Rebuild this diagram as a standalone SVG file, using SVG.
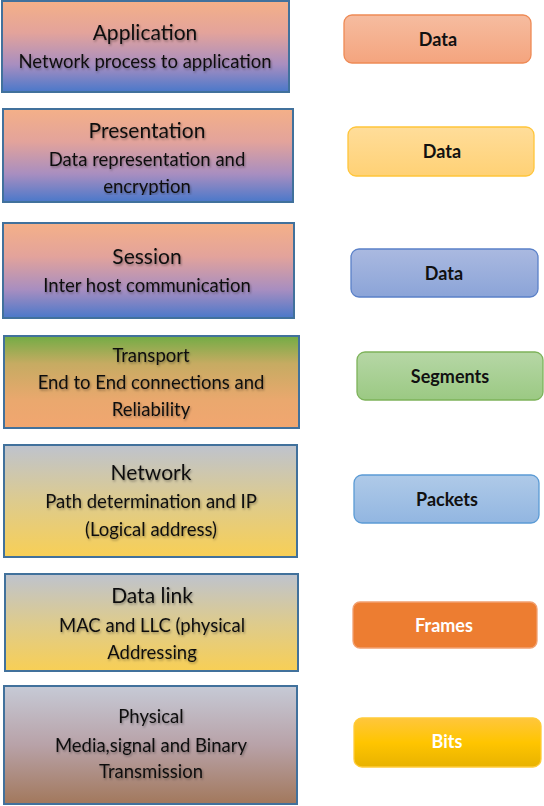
<svg xmlns="http://www.w3.org/2000/svg" width="544" height="806" viewBox="0 0 544 806">
<defs>
<linearGradient id="gBlue" x1="0" y1="0" x2="0" y2="1">
<stop offset="0" stop-color="#F4B088"/>
<stop offset="0.35" stop-color="#E3A39B"/>
<stop offset="0.7" stop-color="#A88EC0"/>
<stop offset="1" stop-color="#4A78CA"/>
</linearGradient>
<linearGradient id="gTrans" x1="0" y1="0" x2="0" y2="1">
<stop offset="0" stop-color="#72AC45"/>
<stop offset="0.3" stop-color="#C6AB62"/>
<stop offset="0.7" stop-color="#EAA86E"/>
<stop offset="1" stop-color="#F1A670"/>
</linearGradient>
<linearGradient id="gYel" x1="0" y1="0" x2="0" y2="1">
<stop offset="0" stop-color="#BEC3CE"/>
<stop offset="0.5" stop-color="#DDCB8E"/>
<stop offset="1" stop-color="#F8CF55"/>
</linearGradient>
<linearGradient id="gPhys" x1="0" y1="0" x2="0" y2="1">
<stop offset="0" stop-color="#C6CAD6"/>
<stop offset="0.5" stop-color="#B8A2A8"/>
<stop offset="1" stop-color="#A2785C"/>
</linearGradient>
<linearGradient id="rData1" x1="0" y1="0" x2="0" y2="1"><stop offset="0" stop-color="#F6BCA0"/><stop offset="1" stop-color="#F4A47E"/></linearGradient>
<linearGradient id="rData2" x1="0" y1="0" x2="0" y2="1"><stop offset="0" stop-color="#FFDD9A"/><stop offset="1" stop-color="#FFD175"/></linearGradient>
<linearGradient id="rData3" x1="0" y1="0" x2="0" y2="1"><stop offset="0" stop-color="#AAB9E0"/><stop offset="1" stop-color="#8BA4D8"/></linearGradient>
<linearGradient id="rSeg" x1="0" y1="0" x2="0" y2="1"><stop offset="0" stop-color="#B6D7A6"/><stop offset="1" stop-color="#9BC983"/></linearGradient>
<linearGradient id="rPack" x1="0" y1="0" x2="0" y2="1"><stop offset="0" stop-color="#AFCAE8"/><stop offset="1" stop-color="#92B6E1"/></linearGradient>
<linearGradient id="rBits" x1="0" y1="0" x2="0" y2="1"><stop offset="0" stop-color="#FFC63D"/><stop offset="0.5" stop-color="#FFC500"/><stop offset="1" stop-color="#E8B200"/></linearGradient>
<filter id="sh" x="-10%" y="-30%" width="120%" height="160%">
<feDropShadow dx="1" dy="1.5" stdDeviation="1.2" flood-color="#000" flood-opacity="0.35"/>
</filter>
<clipPath id="clipPres"><rect x="0" y="100" width="300" height="95"/></clipPath>
</defs>
<style>
.layer{stroke:#41719C;stroke-width:2}
.t{font-family:Lato,"Carlito","Open Sans",sans-serif;fill:#111;text-anchor:middle;filter:url(#sh)}
.h{font-size:21px}
.s{font-size:18.5px}
.pdu{stroke-width:1.3}
.r{font-family:Lato,"Carlito","Open Sans",sans-serif;font-weight:bold;font-size:18px;text-anchor:middle;fill:#111}
.w{fill:#fff}
</style>

<g id="application">
<rect class="layer" x="2" y="1" width="287" height="91" fill="url(#gBlue)"/>
<text class="t h" x="145" y="40">Application</text>
<text class="t s" x="145" y="68">Network process to application</text>
</g>
<g id="presentation">
<rect class="layer" x="3" y="109" width="290" height="93" fill="url(#gBlue)"/>
<text class="t h" x="147" y="138">Presentation</text>
<text class="t s" x="147" y="166">Data representation and</text>
<text class="t s" x="147" y="193" clip-path="url(#clipPres)">encryption</text>
</g>
<g id="session">
<rect class="layer" x="3" y="223" width="291" height="95" fill="url(#gBlue)"/>
<text class="t h" x="147" y="264">Session</text>
<text class="t s" x="147" y="292">Inter host communication</text>
</g>
<g id="transport">
<rect class="layer" x="4" y="336" width="295" height="92" fill="url(#gTrans)"/>
<text class="t s" x="151" y="362">Transport</text>
<text class="t s" x="151" y="389">End to End connections and</text>
<text class="t s" x="151" y="416">Reliability</text>
</g>
<g id="network">
<rect class="layer" x="4" y="445" width="293" height="112" fill="url(#gYel)"/>
<text class="t h" x="151" y="480">Network</text>
<text class="t s" x="151" y="508">Path determination and IP</text>
<text class="t s" x="151" y="536">(Logical address)</text>
</g>
<g id="datalink">
<rect class="layer" x="5" y="574" width="293" height="97" fill="url(#gYel)"/>
<text class="t h" x="152" y="603">Data link</text>
<text class="t s" x="152" y="632">MAC and LLC (physical</text>
<text class="t s" x="152" y="659">Addressing</text>
</g>
<g id="physical">
<rect class="layer" x="4" y="686" width="293" height="118" fill="url(#gPhys)"/>
<text class="t s" x="151" y="723">Physical</text>
<text class="t s" x="151" y="752">Media,signal and Binary</text>
<text class="t s" x="151" y="778">Transmission</text>
</g>

<g id="pdu-data-1">
<rect class="pdu" x="344" y="15" width="187" height="48" rx="8" fill="url(#rData1)" stroke="#EE8A55"/>
<text class="r" x="438" y="46">Data</text>
</g>
<g id="pdu-data-2">
<rect class="pdu" x="348" y="127" width="186" height="49" rx="8" fill="url(#rData2)" stroke="#FFC53A"/>
<text class="r" x="442" y="158">Data</text>
</g>
<g id="pdu-data-3">
<rect class="pdu" x="351" y="249" width="187" height="48" rx="8" fill="url(#rData3)" stroke="#5A80C8"/>
<text class="r" x="444" y="280">Data</text>
</g>
<g id="pdu-segments">
<rect class="pdu" x="357" y="352" width="186" height="48" rx="8" fill="url(#rSeg)" stroke="#7DB35A"/>
<text class="r" x="450" y="383">Segments</text>
</g>
<g id="pdu-packets">
<rect class="pdu" x="354" y="475" width="185" height="48" rx="8" fill="url(#rPack)" stroke="#5B9BD5"/>
<text class="r" x="447" y="506">Packets</text>
</g>
<g id="pdu-frames">
<rect class="pdu" x="353" y="602" width="184" height="46" rx="7" fill="#ED7D31" stroke="#F2A070"/>
<text class="r w" x="444" y="632">Frames</text>
</g>
<g id="pdu-bits">
<rect class="pdu" x="354" y="718" width="187" height="49" rx="8" fill="url(#rBits)" stroke="#FFCB3A"/>
<text class="r w" x="447" y="748">Bits</text>
</g>
<g id="connectors"/>
</svg>
